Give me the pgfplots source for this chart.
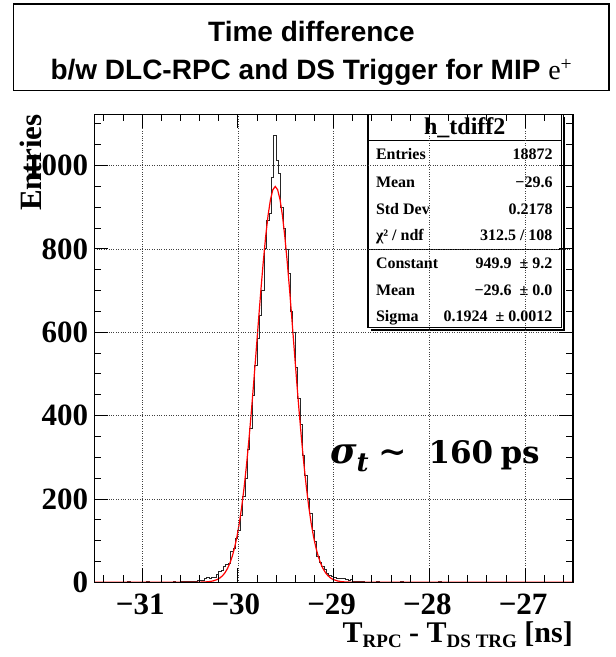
\documentclass[border=0pt]{standalone}
\usepackage{fontspec}
\setmainfont{Liberation Serif}
\newfontfamily\arialf{Liberation Sans}
\newfontfamily\djs{DejaVu Serif}
\usepackage{pgfplots}
\pgfplotsset{compat=1.18}
\begin{document}
\begin{tikzpicture}
\path[use as bounding box] (-94.3pt,-74.7pt) rectangle (521.7pt,582.3pt);
\begin{axis}[
  at={(0pt,0pt)}, anchor=south west,
  scale only axis, width=478.7pt, height=468pt,
  xmin=-31.5, xmax=-26.5, ymin=0, ymax=1123,
  xtick={-31,-30,-29,-28,-27},
  xticklabels={−31,−30,−29,−28,−27},
  ytick={0,200,400,600,800,1000},
  yticklabels={0,200,400,600,800,1000},
  minor xtick={-31.4,-31.2,-30.8,-30.6,-30.4,-30.2,-29.8,-29.6,-29.4,-29.2,-28.8,-28.6,-28.4,-28.2,-27.8,-27.6,-27.4,-27.2,-26.8,-26.6},
  minor ytick={50,100,150,250,300,350,450,500,550,650,700,750,850,900,950,1050,1100},
  tick align=inside,
  major tick length=14pt, minor tick length=7pt,
  every tick/.style={black, line width=0.9pt},
  grid=major,
  major grid style={dotted, black!75, line width=0.8pt},
  axis line style={line width=1.3pt},
  ticklabel style={font=\fontsize{31}{31}\selectfont\bfseries},
  xticklabel style={inner sep=0pt, yshift=-11pt, xshift=-2pt},
  yticklabel style={inner sep=0pt, xshift=-6pt},
  axis on top,
]
\addplot[const plot, black!85, line width=1pt] coordinates {
(-31.5,0)
(-31.15,1) (-31.125,0)
(-30.95,1) (-30.925,0)
(-30.675,1) (-30.65,0)
(-30.6,2) (-30.575,1) (-30.55,2) (-30.525,1) (-30.5,3) (-30.475,2) (-30.45,3)
(-30.425,4) (-30.4,5) (-30.375,5) (-30.35,9) (-30.325,11) (-30.3,10) (-30.275,12) (-30.25,11)
(-30.225,18) (-30.2,27) (-30.175,29) (-30.15,38) (-30.125,43) (-30.1,46) (-30.075,74) (-30.05,80) (-30.025,105)
(-30.0,125) (-29.975,160) (-29.95,206) (-29.925,250) (-29.9,318) (-29.875,370) (-29.85,448) (-29.825,520)
(-29.8,586) (-29.775,640) (-29.75,700) (-29.725,800) (-29.7,867) (-29.675,884) (-29.65,972) (-29.625,1071)
(-29.6,1012) (-29.575,982) (-29.55,900) (-29.525,850) (-29.5,798) (-29.475,740) (-29.45,650) (-29.425,600)
(-29.4,515) (-29.375,440) (-29.35,378) (-29.325,305) (-29.3,256) (-29.275,200) (-29.25,165) (-29.225,124)
(-29.2,97) (-29.175,62) (-29.15,48) (-29.125,38) (-29.1,30) (-29.075,22) (-29.05,17) (-29.025,15)
(-29.0,11) (-28.975,9) (-28.95,10) (-28.925,8) (-28.9,9) (-28.875,6) (-28.85,5) (-28.825,6)
(-28.8,3) (-28.775,2) (-28.75,2) (-28.725,1) (-28.7,1) (-28.675,0)
(-28.55,1) (-28.525,0)
(-28.3,1) (-28.275,0)
(-27.9,1) (-27.875,0)
(-26.5,0)
};
\addplot[red, line width=1.2pt] coordinates {
(-31.5,0) (-30.61,0) (-30.41,0.2) (-30.31,1.3) (-30.26,3.2) (-30.21,7.3) (-30.185,10.9) (-30.16,16.0)
(-30.135,22.9) (-30.11,32.5) (-30.085,45.1) (-30.06,61.6) (-30.035,82.8) (-30.01,109.4)
(-29.985,142.1) (-29.96,181.6) (-29.935,228.1) (-29.91,281.7) (-29.885,342.0) (-29.86,408.4)
(-29.835,479.4) (-29.81,553.4) (-29.785,628.1) (-29.76,701.0) (-29.735,769.0) (-29.71,829.8)
(-29.685,880.4) (-29.66,918.4) (-29.635,941.9) (-29.61,949.9)
(-29.585,941.9) (-29.56,918.4) (-29.535,880.4) (-29.51,829.8) (-29.485,769.0) (-29.46,701.0)
(-29.435,628.1) (-29.41,553.4) (-29.385,479.4) (-29.36,408.4) (-29.335,342.0) (-29.31,281.7)
(-29.285,228.1) (-29.26,181.6) (-29.235,142.1) (-29.21,109.4) (-29.185,82.8) (-29.16,61.6)
(-29.135,45.1) (-29.11,32.5) (-29.085,22.9) (-29.06,16.0) (-29.035,10.9) (-29.01,7.3)
(-28.96,3.2) (-28.91,1.3) (-28.81,0.2) (-28.61,0) (-26.5,0)
};
% stats box
\fill[white] ([shift={(273.7pt,254.6pt)}]rel axis cs:0,0) rectangle ([shift={(467.4pt,468pt)}]rel axis cs:0,0);
\draw[line width=1.2pt] ([shift={(273.7pt,254.6pt)}]rel axis cs:0,0) rectangle ([shift={(467.4pt,468pt)}]rel axis cs:0,0);
\draw[line width=1.6pt] ([shift={(469.9pt,465.5pt)}]rel axis cs:0,0) -- ([shift={(469.9pt,252.1pt)}]rel axis cs:0,0) -- ([shift={(276.2pt,252.1pt)}]rel axis cs:0,0);
\draw[line width=1.2pt] ([shift={(273.7pt,441.6pt)}]rel axis cs:0,0) -- ([shift={(467.4pt,441.6pt)}]rel axis cs:0,0);
\draw[line width=1.2pt] ([shift={(273.7pt,333pt)}]rel axis cs:0,0) -- ([shift={(467.4pt,333pt)}]rel axis cs:0,0);
\node[anchor=base, inner sep=0pt, font=\bfseries\fontsize{24}{24}\selectfont] at ([shift={(370.5pt,448pt)}]rel axis cs:0,0) {h\_tdiff2};
\begin{scope}[every node/.style={inner sep=0pt, font=\bfseries\fontsize{16}{16}\selectfont}]
\node[anchor=base west] at ([shift={(281.5pt,422.3pt)}]rel axis cs:0,0) {Entries};
\node[anchor=base west] at ([shift={(281.5pt,394.6pt)}]rel axis cs:0,0) {Mean};
\node[anchor=base west] at ([shift={(281.5pt,368pt)}]rel axis cs:0,0) {Std Dev};
\node[anchor=base west] at ([shift={(281.5pt,341.3pt)}]rel axis cs:0,0) {χ² / ndf};
\node[anchor=base west] at ([shift={(281.5pt,313.3pt)}]rel axis cs:0,0) {Constant};
\node[anchor=base west] at ([shift={(281.5pt,287.3pt)}]rel axis cs:0,0) {Mean};
\node[anchor=base west] at ([shift={(281.5pt,261.3pt)}]rel axis cs:0,0) {Sigma};
\node[anchor=base east] at ([shift={(458.4pt,422.3pt)}]rel axis cs:0,0) {18872};
\node[anchor=base east] at ([shift={(458.4pt,394.6pt)}]rel axis cs:0,0) {−29.6};
\node[anchor=base east] at ([shift={(458.4pt,368pt)}]rel axis cs:0,0) {0.2178};
\node[anchor=base east] at ([shift={(458.4pt,341.3pt)}]rel axis cs:0,0) {312.5 / 108};
\node[anchor=base east] at ([shift={(458.4pt,313.3pt)}]rel axis cs:0,0) {949.9\ \ ± 9.2};
\node[anchor=base east] at ([shift={(458.4pt,287.3pt)}]rel axis cs:0,0) {−29.6 \ ± 0.0};
\node[anchor=base east] at ([shift={(458.4pt,261.3pt)}]rel axis cs:0,0) {0.1924 \ ± 0.0012};
\end{scope}
\end{axis}
% title box
\draw[line width=1.5pt] (-80.6pt,491.7pt) rectangle (514.7pt,578.3pt);
\node[anchor=base, inner sep=0pt, font=\arialf\bfseries\fontsize{28}{28}\selectfont] at (217.1pt,540.3pt) {Time difference};
\node[anchor=base, inner sep=0pt, font=\arialf\bfseries\fontsize{28}{28}\selectfont] at (217.1pt,502.3pt) {b/w DLC-RPC and DS Trigger for MIP {\rmfamily\mdseries e\textsuperscript{+}}};
% axis titles
\node[anchor=base east, inner sep=0pt, font=\bfseries\fontsize{30}{30}\selectfont] at (478.7pt,-60.3pt) {T{\fontsize{19}{19}\selectfont\raisebox{-5pt}{RPC}} - T{\fontsize{19}{19}\selectfont\raisebox{-5pt}{DS TRG}} [ns]};
\node[rotate=90, anchor=base east, inner sep=0pt, font=\bfseries\fontsize{31}{31}\selectfont] at (-52.3pt,468pt) {Entries};
% sigma annotation
\node[anchor=base west, inner sep=0pt, font=\djs\bfseries\itshape\fontsize{36}{36}\selectfont] at (235.7pt,119pt) {σ};
\node[anchor=base west, inner sep=0pt, font=\djs\bfseries\itshape\fontsize{26}{26}\selectfont] at (262pt,111pt) {t};
\node[anchor=base west, inner sep=0pt, font=\djs\bfseries\fontsize{34}{34}\selectfont] at (284pt,119pt) {∼};
\node[anchor=base west, inner sep=0pt, font=\djs\bfseries\fontsize{31}{31}\selectfont] at (334pt,119pt) {160};
\node[anchor=base west, inner sep=0pt, font=\djs\bfseries\fontsize{31}{31}\selectfont] at (406pt,119pt) {ps};
\end{tikzpicture}
\end{document}
